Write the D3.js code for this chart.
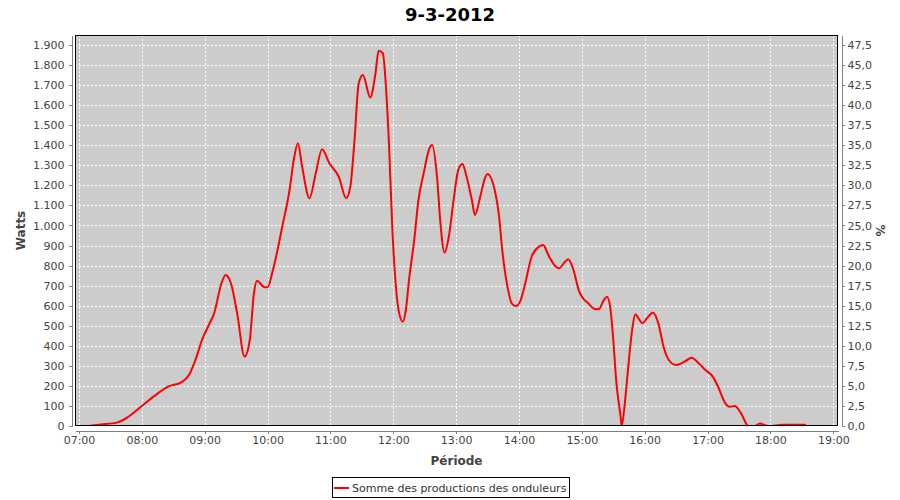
<!DOCTYPE html>
<html>
<head>
<meta charset="utf-8">
<script src="https://cdn.jsdelivr.net/npm/d3@7"></script>
<style>
  html, body { margin: 0; padding: 0; background: #ffffff; }
  svg { display: block; }
  text { font-family: "DejaVu Sans", sans-serif; }
</style>
</head>
<body>
<svg id="chart" width="900" height="500"></svg>
<script>
// ---- data ----
const title = "9-3-2012";
const seriesName = "Somme des productions des onduleurs";
const xLabel = "Période";
const yLabel = "Watts";
const y2Label = "%";
const times = [
  "07:09","07:21","07:37","07:47","07:59","08:12","08:25","08:38","08:45","08:50",
  "08:58","09:04","09:09","09:16","09:20","09:25","09:31","09:38","09:43","09:47",
  "09:50","09:57","10:00","10:05","10:14","10:21","10:25","10:29","10:33","10:40",
  "10:46","10:52","10:59","11:08","11:15","11:19","11:23","11:27","11:31","11:38",
  "11:43","11:46","11:50","11:53","11:56","11:59","12:02","12:05","12:09","12:12",
  "12:15","12:20","12:24","12:29","12:34","12:37","12:42","12:45","12:49","12:53",
  "12:58","13:02","13:06","13:10","13:15","13:18","13:23","13:28","13:30","13:36",
  "13:41","13:44","13:49","13:53","13:57","14:01","14:06","14:12","14:19","14:23",
  "14:28","14:35","14:38","14:44","14:47","14:52","14:57","15:00","15:06","15:13",
  "15:16","15:21","15:24","15:27","15:30","15:33","15:37","15:38","15:41","15:44",
  "15:48","15:51","15:55","15:58","16:02","16:08","16:13","16:18","16:23","16:30",
  "16:38","16:45","16:51","16:58","17:05","17:10","17:17","17:21","17:26","17:32",
  "17:39","17:45","17:50","17:55","17:58","18:12","18:33","18:34","18:48"
];
const watts = [
  0,7,18,46,96,150,196,219,254,313,
  437,504,562,712,753,712,562,346,429,662,
  725,692,692,775,994,1177,1327,1410,1293,1136,
  1260,1380,1310,1243,1136,1194,1426,1709,1750,1638,
  1759,1872,1859,1692,1393,994,728,579,520,579,
  728,928,1127,1260,1377,1401,1227,1011,864,944,
  1144,1277,1307,1243,1127,1052,1144,1243,1257,1194,
  1044,878,695,612,598,620,712,844,894,903,
  853,795,786,819,831,778,678,645,612,582,
  582,628,645,595,429,213,46,0,113,279,
  479,557,529,512,537,565,512,395,329,304,
  321,341,316,279,246,196,113,96,100,63,
  0,0,13,3,0,6,6,0,0
];
const xTickLabels = ["07:00","08:00","09:00","10:00","11:00","12:00","13:00","14:00","15:00","16:00","17:00","18:00","19:00"];
const yTickValues = [0,100,200,300,400,500,600,700,800,900,1000,1100,1200,1300,1400,1500,1600,1700,1800,1900];
const y2TickValues = [0,2.5,5,7.5,10,12.5,15,17.5,20,22.5,25,27.5,30,32.5,35,37.5,40,42.5,45,47.5];
const xDomainStart = "06:56:11";
const xDomainEnd = "19:04:30";
const yMax = 1950;
const pctFactor = 40; // watts per percent

// ---- layout ----
const plot = { left: 75, right: 838, top: 35, bottom: 426 };
const axisGap = 4;

const svg = d3.select("#chart");
const parseHM = d3.timeParse("%H:%M");
const parseHMS = d3.timeParse("%H:%M:%S");
const data = times.map((t, i) => ({ t: parseHM(t), v: watts[i] }));

const x = d3.scaleTime()
  .domain([parseHMS(xDomainStart), parseHMS(xDomainEnd)])
  .range([plot.left, plot.right]);
const y = d3.scaleLinear().domain([0, yMax]).range([plot.bottom, plot.top]);
const y2 = d3.scaleLinear().domain([0, yMax / pctFactor]).range([plot.bottom, plot.top]);

const loc = d3.formatLocale({ decimal: ",", thousands: ".", grouping: [3], currency: ["", " €"] });
const fmtY = loc.format(",d");
const fmtY2 = loc.format(".1f");
const xTickDates = xTickLabels.map(parseHM);

// title
svg.append("text")
  .attr("x", 450).attr("y", 21)
  .attr("text-anchor", "middle")
  .style("font-size", "18px").style("font-weight", "bold").attr("fill", "#000")
  .text(title);

// plot background
svg.append("rect")
  .attr("x", plot.left).attr("y", plot.top)
  .attr("width", plot.right - plot.left).attr("height", plot.bottom - plot.top)
  .attr("fill", "#cccccc");

// grid
const grid = svg.append("g").attr("shape-rendering", "crispEdges");
grid.selectAll("line.h").data(yTickValues.filter(d => d > 0)).enter().append("line")
  .attr("x1", plot.left).attr("x2", plot.right)
  .attr("y1", d => Math.round(y(d)) + 0.5).attr("y2", d => Math.round(y(d)) + 0.5)
  .attr("stroke", "#ffffff").attr("stroke-width", 1).attr("stroke-dasharray", "2,2");
grid.selectAll("line.v").data(xTickDates).enter().append("line")
  .attr("y1", plot.top).attr("y2", plot.bottom)
  .attr("x1", d => Math.round(x(d)) + 0.5).attr("x2", d => Math.round(x(d)) + 0.5)
  .attr("stroke", "#ffffff").attr("stroke-width", 1).attr("stroke-dasharray", "2,2");

// line
svg.append("clipPath").attr("id", "clip").append("rect")
  .attr("x", plot.left).attr("y", plot.top)
  .attr("width", plot.right - plot.left).attr("height", plot.bottom - plot.top);
const line = d3.line().x(d => x(d.t)).y(d => y(d.v)).curve(d3.curveMonotoneX);
svg.append("path")
  .datum(data)
  .attr("clip-path", "url(#clip)")
  .attr("fill", "none").attr("stroke", "#ff0000").attr("stroke-width", 2)
  .attr("stroke-linejoin", "round")
  .attr("d", line);

// plot border
svg.append("rect")
  .attr("x", plot.left + 0.5).attr("y", plot.top + 0.5)
  .attr("width", plot.right - plot.left - 1).attr("height", plot.bottom - plot.top - 1)
  .attr("fill", "none").attr("stroke", "#000").attr("stroke-width", 1.2)
  .attr("shape-rendering", "crispEdges");

function styleAxis(g) {
  g.attr("shape-rendering", "crispEdges");
  g.select(".domain").attr("stroke", "#808080");
  g.selectAll(".tick line").attr("stroke", "#808080");
  g.selectAll(".tick text").attr("fill", "#444444")
    .style("font-family", "'DejaVu Sans', sans-serif").style("font-size", "11px");
}

// left axis
const gy = svg.append("g")
  .attr("transform", `translate(${plot.left - axisGap + 0.5},0)`)
  .call(d3.axisLeft(y).tickValues(yTickValues).tickFormat(fmtY).tickSizeInner(3).tickSizeOuter(0).tickPadding(4));
styleAxis(gy);

// right axis
const gy2 = svg.append("g")
  .attr("transform", `translate(${plot.right + axisGap - 0.5},0)`)
  .call(d3.axisRight(y2).tickValues(y2TickValues).tickFormat(fmtY2).tickSizeInner(3).tickSizeOuter(0).tickPadding(3));
styleAxis(gy2);

// bottom axis
const gx = svg.append("g")
  .attr("transform", `translate(0,${plot.bottom + axisGap + 0.5})`)
  .call(d3.axisBottom(x).tickValues(xTickDates).tickFormat(d3.timeFormat("%H:%M")).tickSizeInner(3).tickSizeOuter(0).tickPadding(3));
styleAxis(gx);

// axis labels
const midY = (plot.top + plot.bottom) / 2;
svg.append("text")
  .attr("transform", `translate(25,${midY}) rotate(-90)`)
  .attr("text-anchor", "middle")
  .style("font-size", "12px").style("font-weight", "bold").attr("fill", "#444444")
  .text(yLabel);
svg.append("text")
  .attr("transform", `translate(876,${midY}) rotate(90)`)
  .attr("text-anchor", "middle")
  .style("font-size", "12px").style("font-weight", "bold").attr("fill", "#444444")
  .text(y2Label);
svg.append("text")
  .attr("x", (plot.left + plot.right) / 2).attr("y", 465)
  .attr("text-anchor", "middle")
  .style("font-size", "12px").style("font-weight", "bold").attr("fill", "#444444")
  .text(xLabel);

// legend
const lg = svg.append("g");
lg.append("rect")
  .attr("x", 332.5).attr("y", 477.5).attr("width", 237).attr("height", 20)
  .attr("fill", "#fff").attr("stroke", "#000").attr("stroke-width", 1)
  .attr("shape-rendering", "crispEdges");
lg.append("line")
  .attr("x1", 334).attr("x2", 349).attr("y1", 488).attr("y2", 488)
  .attr("stroke", "#ff0000").attr("stroke-width", 2);
lg.append("text")
  .attr("x", 352).attr("y", 492)
  .style("font-size", "11px").attr("fill", "#333333")
  .text(seriesName);
</script>
</body>
</html>
